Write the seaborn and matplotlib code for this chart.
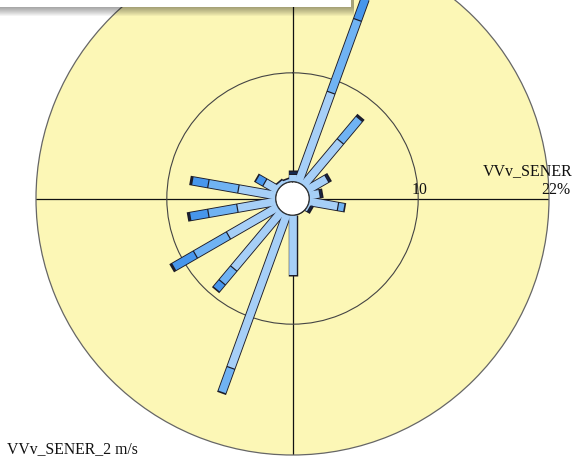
import numpy as np
import pandas as pd
import matplotlib
matplotlib.use("Agg")
import matplotlib.pyplot as plt
import matplotlib.patches as mpatches
import matplotlib.transforms as mtransforms
import seaborn as sns

# Wind direction (degrees, clockwise from north) and frequency (%) per speed class
directions = [0, 20, 40, 60, 80, 100, 120, 180, 200, 220, 240, 260, 280, 300, 320, 340]
class1 = [0.65, 8.8, 5.3, 2.1, 1.0, 2.7, 0.25, 5.5, 15.0, 6.85, 5.25, 3.6, 3.5, 1.4, 0.4, 0.3]
class2 = [0.0, 7.1, 2.7, 0.0, 0.0, 0.6, 0.0, 0.0, 2.4, 1.65, 3.5, 2.7, 2.8, 0.0, 0.0, 0.0]
class3 = [0.0, 4.9, 0.0, 0.0, 0.0, 0.0, 0.0, 0.0, 0.0, 0.85, 2.3, 1.7, 1.5, 0.8, 0.0, 0.0]
class4 = [0.3, 0.0, 0.15, 0.2, 0.2, 0.0, 0.2, 0.0, 0.0, 0.0, 0.12, 0.15, 0.12, 0.0, 0.0, 0.0]
class_names = ["c1", "c2", "c3", "c4"]
class_colors = ["#a6cff7", "#70b3f3", "#4796ec", "#16284f"]

ring_value = 10
r_max = 22
station = "VVv_SENER"
footer = "VVv_SENER_2 m/s"

sns.set_style("white")
plt.rcParams["font.family"] = ["Liberation Serif", "DejaVu Serif"]

W, H = 578, 462
fig = plt.figure(figsize=(W / 100, H / 100), dpi=100)
fig.patch.set_facecolor("white")

# polar area: centre (292.5, 198.5) px from top, radius 256.5 px
cx, cy, R = 292.5, 198.5, 256.5
ax = fig.add_axes([(cx - R) / W, (H - cy - R) / H, 2 * R / W, 2 * R / H],
                  projection="polar")
ax.set_theta_zero_location("N")
ax.set_theta_direction(-1)
ax.set_rorigin(-1.529)
ax.set_ylim(0, r_max)
ax.set_facecolor("#fcf7b6")

ax.set_xticks(np.radians([0, 90, 180, 270]))
ax.set_xticklabels([])
ax.set_yticks([ring_value])
ax.set_yticklabels([])
ax.xaxis.grid(True, color="#111111", lw=0.9)
ax.yaxis.grid(True, color="#444444", lw=0.8)
ax.spines["polar"].set_color("#666666")
ax.spines["polar"].set_linewidth(0.9)

# build stacked segments
classes = [class1, class2, class3, class4]
rows = []
seg = 0
totals = []
for i, d in enumerate(directions):
    th = np.radians(d)
    start = 0.0
    for k, vals in enumerate(classes):
        v = vals[i]
        if v <= 0:
            continue
        end = start + v
        a = start + (0.06 if start > 0 else 0.0)
        b = end - 0.05
        rows.append({"theta": th, "r": a, "cls": class_names[k], "seg": seg})
        rows.append({"theta": th, "r": b, "cls": class_names[k], "seg": seg})
        seg += 1
        start = end
    totals.append(start)
seg_df = pd.DataFrame(rows)

# dark outline of each bar
for d, t in zip(directions, totals):
    th = np.radians(d)
    ax.plot([th, th], [0, t + 0.1], color="#1c1c28", lw=6.8,
            solid_capstyle="butt", zorder=3)

# coloured speed-class segments
sns.lineplot(data=seg_df, x="theta", y="r", hue="cls", units="seg",
             estimator=None, sort=False, hue_order=class_names,
             palette=dict(zip(class_names, class_colors)), legend=False,
             lw=5.5, solid_capstyle="butt", zorder=4, ax=ax)
ax.set_xlabel("")
ax.set_ylabel("")

# inner calm circle outline
tt = np.linspace(0, 2 * np.pi, 300)
ax.plot(tt, np.zeros_like(tt), color="#222222", lw=1.1, zorder=5)

# ring labels on the east axis
lab_tr = mtransforms.offset_copy(ax.transData, fig=fig, x=1.2, y=3.6,
                                 units="points")
ax.text(np.pi / 2, ring_value, str(ring_value), transform=lab_tr,
        ha="center", va="baseline", fontsize=11.3, color="#111111",
        zorder=6, clip_on=False)
pct_tr = mtransforms.offset_copy(ax.transData, fig=fig, x=-5.8, y=3.6,
                                 units="points")
ax.text(np.pi / 2, r_max, f"{r_max}%", transform=pct_tr,
        ha="left", va="baseline", fontsize=11.3, color="#111111",
        zorder=6, clip_on=False)

fig.text(573 / W, (H - 175) / H, station, ha="right", va="baseline",
         fontsize=11.5, color="#111111")
fig.text(7 / W, (H - 453) / H, footer, ha="left", va="baseline",
         fontsize=11.3, color="#111111")

# header box with soft drop shadow
box_w, box_h = 351, 7
for i in range(9):
    fig.patches.append(mpatches.Rectangle(
        (0, (H - box_h - i - 1) / H), (box_w + 3) / W, (box_h + i + 1) / H,
        transform=fig.transFigure, facecolor="black", edgecolor="none",
        alpha=0.045, zorder=10))
fig.patches.append(mpatches.Rectangle(
    (0, (H - box_h) / H), box_w / W, box_h / H + 0.01,
    transform=fig.transFigure, facecolor="white", edgecolor="none", zorder=11))

fig.savefig("out.png", dpi=100)
